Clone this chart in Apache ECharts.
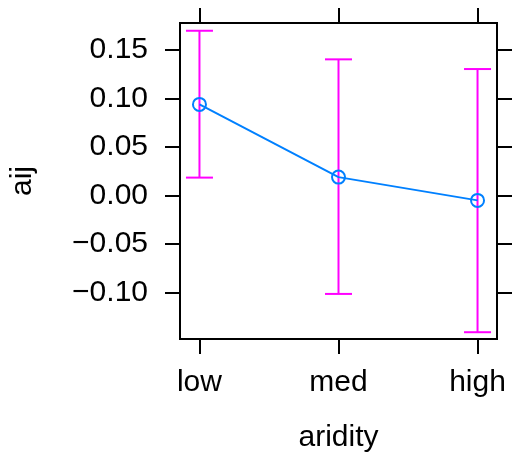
<!DOCTYPE html>
<html><head><meta charset="utf-8">
<script src="https://cdn.jsdelivr.net/npm/echarts@6/dist/echarts.min.js"></script>
<style>html,body{margin:0;padding:0;background:#fff}#c{width:512px;height:453px}</style>
</head><body><div id="c"></div>
<script>
var categories = ['low', 'med', 'high'];
var estimates = [0.094, 0.019, -0.005];
var lower = [0.0185, -0.1015, -0.141];
var upper = [0.170, 0.1405, 0.1305];
var yTicks = [-0.10, -0.05, 0.00, 0.05, 0.10, 0.15];

var xPos = categories.map(function (c, i) { return i + 1; });
var lineData = estimates.map(function (v, i) { return [xPos[i], v]; });
var barData = categories.map(function (c, i) { return [xPos[i], lower[i], upper[i]]; });

function fmtY(v) {
  var s = Number(v).toFixed(2);
  return s.replace('-', '\u2212');
}
var FONT = 'Liberation Sans';
var FS = 30;
var chart = echarts.init(document.getElementById('c'));
var tickStyle = { show: true, inside: false, length: 15, lineStyle: { color: '#000', width: 2 } };
var noLine = { show: false, onZero: false };
chart.setOption({
  animation: false,
  backgroundColor: '#fff',
  grid: { left: 180, top: 23, width: 317, height: 316, outerBoundsMode: 'none', containLabel: false,
    show: true, borderColor: '#000', borderWidth: 2, backgroundColor: '#fff' },
  xAxis: [{
    type: 'value', min: 0.86, max: 3.14, position: 'bottom',
    name: 'aridity', nameLocation: 'middle', nameGap: 84,
    nameTextStyle: { fontFamily: FONT, fontSize: FS, color: '#000' },
    axisLine: noLine, splitLine: { show: false },
    axisTick: Object.assign({ customValues: xPos }, tickStyle),
    axisLabel: { customValues: xPos, margin: 29, fontFamily: FONT, fontSize: FS, color: '#000',
      formatter: function (v) { return categories[Math.round(v) - 1] || ''; } }
  }, {
    type: 'value', min: 0.86, max: 3.14, position: 'top',
    axisLine: noLine, splitLine: { show: false },
    axisTick: Object.assign({ customValues: xPos }, tickStyle),
    axisLabel: { show: false }
  }],
  yAxis: [{
    type: 'value', min: -0.148, max: 0.178, position: 'left',
    name: 'aij', nameLocation: 'middle', nameGap: 142,
    nameTextStyle: { fontFamily: FONT, fontSize: FS, color: '#000' },
    axisLine: noLine, splitLine: { show: false },
    axisTick: Object.assign({ customValues: yTicks }, tickStyle),
    axisLabel: { customValues: yTicks, margin: 32, padding: [8, 0, 0, 0], fontFamily: FONT, fontSize: FS, color: '#000', formatter: fmtY }
  }, {
    type: 'value', min: -0.148, max: 0.178, position: 'right',
    axisLine: noLine, splitLine: { show: false },
    axisTick: Object.assign({ customValues: yTicks }, tickStyle),
    axisLabel: { show: false }
  }],
  series: [{
    type: 'custom',
    data: barData,
    z: 2,
    renderItem: function (params, api) {
      var x = api.value(0);
      var lo = api.coord([x, api.value(1)]);
      var hi = api.coord([x, api.value(2)]);
      var hw = 13.5;
      var st = { stroke: '#ff00ff', lineWidth: 2, fill: null };
      return { type: 'group', children: [
        { type: 'line', shape: { x1: lo[0], y1: lo[1], x2: hi[0], y2: hi[1] }, style: st },
        { type: 'line', shape: { x1: lo[0] - hw, y1: lo[1], x2: lo[0] + hw, y2: lo[1] }, style: st },
        { type: 'line', shape: { x1: hi[0] - hw, y1: hi[1], x2: hi[0] + hw, y2: hi[1] }, style: st }
      ] };
    }
  }, {
    type: 'line',
    data: lineData,
    z: 3,
    symbol: 'circle', symbolSize: 13,
    lineStyle: { color: '#0080ff', width: 2 },
    itemStyle: { color: 'rgba(0,0,0,0)', borderColor: '#0080ff', borderWidth: 2 }
  }]
});
</script></body></html>
